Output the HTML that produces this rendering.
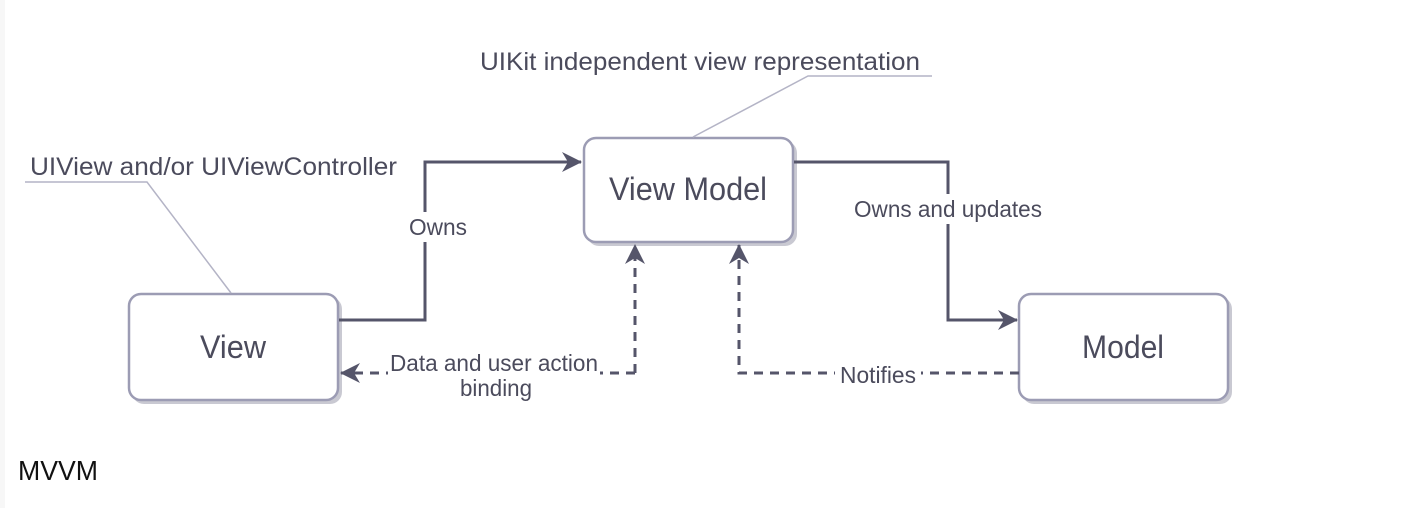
<!DOCTYPE html>
<html><head><meta charset="utf-8"><style>
html,body{margin:0;padding:0;background:#fff;width:1418px;height:508px;overflow:hidden}
svg{display:block}
text{font-family:"Liberation Sans",sans-serif;fill:#4b4b5c}
</style></head><body>
<svg width="1418" height="508" viewBox="0 0 1418 508" xmlns="http://www.w3.org/2000/svg">
<defs>
<marker id="b" markerWidth="20" markerHeight="20" refX="19" refY="10" orient="auto" markerUnits="userSpaceOnUse" viewBox="0 0 20 20">
<path d="M0,0 L20,10 L0,20 L6,10 Z" fill="#55556a"/></marker>
</defs>
<rect x="0" y="0" width="5" height="508" fill="#f7f7f7"/>
<rect x="132" y="297" width="210" height="107" rx="12" fill="#c9c9d2"/>
<rect x="587" y="141" width="210" height="105" rx="12" fill="#c9c9d2"/>
<rect x="1022" y="297" width="210" height="107" rx="12" fill="#c9c9d2"/>
<rect x="129" y="294" width="209" height="106" rx="12" fill="#fff" stroke="#9c9cb4" stroke-width="2.5"/>
<rect x="584" y="138" width="209" height="104" rx="12" fill="#fff" stroke="#9c9cb4" stroke-width="2.5"/>
<rect x="1019" y="294" width="209" height="106" rx="12" fill="#fff" stroke="#9c9cb4" stroke-width="2.5"/>
<text x="233" y="358" font-size="32" text-anchor="middle" textLength="66" lengthAdjust="spacingAndGlyphs">View</text>
<text x="688" y="200" font-size="32" text-anchor="middle" textLength="158" lengthAdjust="spacingAndGlyphs">View Model</text>
<text x="1123" y="358" font-size="32" text-anchor="middle" textLength="82" lengthAdjust="spacingAndGlyphs">Model</text>
<polyline points="339,320 425,320 425,162 581,162" fill="none" stroke="#55556a" stroke-width="3" marker-end="url(#b)"/>
<polyline points="794,162 948,162 948,320 1017,320" fill="none" stroke="#55556a" stroke-width="3" marker-end="url(#b)"/>
<rect x="405" y="212" width="66" height="30" fill="#fff"/>
<text x="438" y="235" font-size="23" text-anchor="middle" textLength="58" lengthAdjust="spacingAndGlyphs">Owns</text>
<rect x="850" y="194" width="196" height="30" fill="#fff"/>
<text x="948" y="217" font-size="23" text-anchor="middle" textLength="188" lengthAdjust="spacingAndGlyphs">Owns and updates</text>
<polyline points="635,373 635,245" fill="none" stroke="#55556a" stroke-width="3" stroke-dasharray="9,7" marker-end="url(#b)"/>
<polyline points="635,373 341,373" fill="none" stroke="#55556a" stroke-width="3" stroke-dasharray="9,7" marker-end="url(#b)"/>
<polyline points="1019,373 739,373 739,245" fill="none" stroke="#55556a" stroke-width="3" stroke-dasharray="9,7" marker-end="url(#b)"/>
<rect x="388" y="350" width="212" height="50" fill="#fff"/>
<text x="494" y="371" font-size="23" text-anchor="middle" textLength="208" lengthAdjust="spacingAndGlyphs">Data and user action</text>
<text x="496" y="396" font-size="23" text-anchor="middle" textLength="72" lengthAdjust="spacingAndGlyphs">binding</text>
<rect x="835" y="360" width="86" height="28" fill="#fff"/>
<text x="878" y="383" font-size="23" text-anchor="middle" textLength="76" lengthAdjust="spacingAndGlyphs">Notifies</text>
<polyline points="25,182 147,182 231,293" fill="none" stroke="#b4b4c6" stroke-width="1.5"/>
<text x="30" y="175" font-size="25" textLength="367" lengthAdjust="spacingAndGlyphs">UIView and/or UIViewController</text>
<polyline points="932,76 808,76 693,137" fill="none" stroke="#b4b4c6" stroke-width="1.5"/>
<text x="480" y="70" font-size="25" textLength="440" lengthAdjust="spacingAndGlyphs">UIKit independent view representation</text>
<text x="18" y="480" font-size="28" style="fill:#111" textLength="80" lengthAdjust="spacingAndGlyphs">MVVM</text>
</svg>
</body></html>
